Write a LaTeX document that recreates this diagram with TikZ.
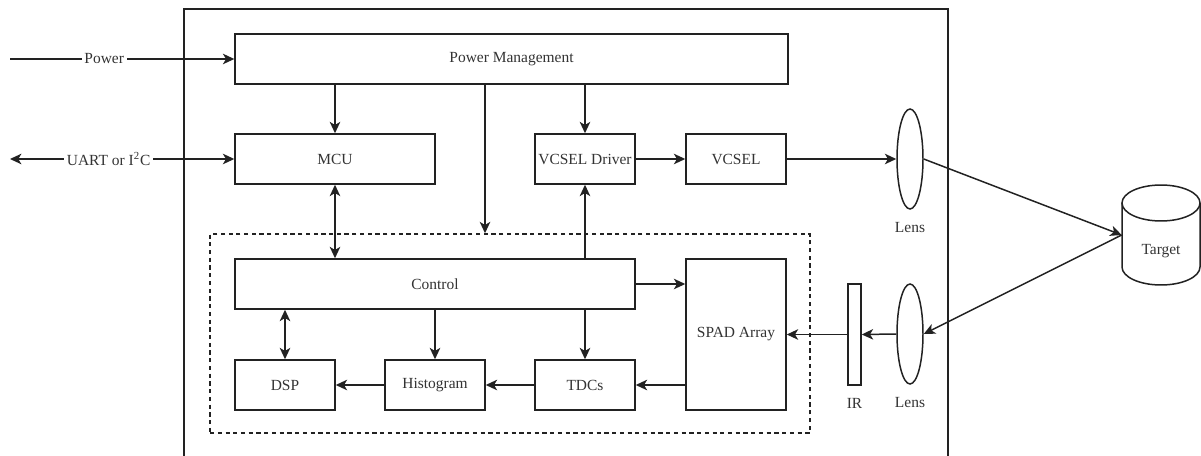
\documentclass[tikz,border=0pt]{standalone}
\usepackage{fontspec}
\setmainfont{Liberation Serif}
\usetikzlibrary{arrows.meta,shapes.geometric}
\definecolor{ink}{HTML}{222222}
\definecolor{txt}{HTML}{333333}
\tikzset{
  tip/.tip={Stealth[length=6.5pt,width=6pt,inset=1.8pt]},
  blk/.style={draw=ink, line width=0.85pt, fill=white, minimum height=1cm, inner sep=0pt,
    font=\fontsize{8.8}{10}\selectfont, text=txt},
  arr/.style={draw=ink, line width=0.85pt, -tip},
  arrb/.style={draw=ink, line width=0.85pt, tip-tip},
  lab/.style={fill=white, inner sep=1.5pt, font=\fontsize{8.8}{10}\selectfont, text=txt},
  lensshape/.style={ellipse, draw=ink, line width=0.85pt, minimum width=0.52cm, minimum height=2cm, inner sep=0pt},
  grpbox/.style={draw=ink, line width=0.85pt, dash pattern=on 2.4pt off 2pt, minimum width=12cm, minimum height=3.98cm, inner sep=0pt},
}
\begin{document}
\begin{tikzpicture}[x=0.02cm,y=-0.02cm]
\useasboundingbox (0,0) rectangle (1201,456);
% outer enclosure (bottom cut by the picture edge)
\draw[draw=ink, line width=0.85pt] (184,456) -- (184,9) -- (948,9) -- (948,456);
% dashed group
\node[grpbox] (grp) at (510,333.5) {};
% blocks
\node[blk, minimum width=11.06cm] (pm) at (511.5,59) {Power Management};
\node[blk, minimum width=4cm] (mcu) at (335,159) {MCU};
\node[blk, minimum width=2cm] (vd) at (585,159) {VCSEL Driver};
\node[blk, minimum width=2cm] (vcsel) at (736,159) {VCSEL};
\node[blk, minimum width=8cm] (ctrl) at (435,284) {Control};
\node[blk, minimum width=2cm, minimum height=3.02cm] (spad) at (736,334.5) {SPAD Array};
\node[blk, minimum width=2cm] (dsp) at (285,385) {DSP};
\node[blk, minimum width=2cm] (hist) at (435,385) {Histogram};
\node[blk, minimum width=2cm] (tdc) at (585,385) {TDCs};
\node[blk, minimum width=0.26cm, minimum height=2.02cm] (ir) at (854.5,334.5) {};
\node[lensshape] (lens1) at (910,159) {};
\node[lensshape] (lens2) at (910,334) {};
\node[lab, fill=none] (lens1l) at (910,228) {Lens};
\node[lab, fill=none] (lens2l) at (910,403) {Lens};
\node[lab, fill=none] (irl) at (854.5,403) {IR};
% target cylinder
\node[minimum width=1.56cm, minimum height=2cm, inner sep=0pt] (target) at (1161,235) {};
\draw[draw=ink, line width=0.85pt, fill=white] (1122,203) -- (1122,267) arc[start angle=180, end angle=0, x radius=39, y radius=18] -- (1200,203);
\draw[draw=ink, line width=0.85pt, fill=white] (1161,203) ellipse[x radius=39, y radius=18];
\node[lab, fill=none] (targetl) at (1161,251) {Target};
% external inputs
\coordinate (pin) at (10,59);
\coordinate (uin) at (10,159);
\coordinate (xa) at (485,0);
\draw[arr] (pin) -- node[lab, pos=0.42] {Power} (pm.west);
\draw[arrb] (uin) -- node[lab, pos=0.44] {UART or I\textsuperscript{2}C} (mcu.west);
% power management
\draw[arr] (pm.south -| mcu) -- (mcu.north);
\draw[arr] (pm.south -| vd) -- (vd.north);
\draw[arr] (pm.south -| xa) -- (grp.north -| xa);
% top row
\draw[arr] (vd.east) -- (vcsel.west);
\draw[arr] (vcsel.east) -- (lens1.west);
\draw[arr] (lens1.east) -- (target.west);
\draw[arr] (target.west) -- (lens2.east);
\draw[arr] (lens2.west) -- (ir.east);
\draw[arr] (ir.west) -- (spad.east);
% control
\draw[arrb] (mcu.south) -- (mcu.south |- ctrl.north);
\draw[arr] (ctrl.north -| vd) -- (vd.south);
\draw[arr] (ctrl.east) -- (ctrl.east -| spad.west);
\draw[arrb] (dsp.north) -- (dsp.north |- ctrl.south);
\draw[arr] (ctrl.south -| hist) -- (hist.north);
\draw[arr] (ctrl.south -| tdc) -- (tdc.north);
% bottom row
\draw[arr] (spad.west |- tdc) -- (tdc.east);
\draw[arr] (tdc.west) -- (hist.east);
\draw[arr] (hist.west) -- (dsp.east);
\end{tikzpicture}
\end{document}
